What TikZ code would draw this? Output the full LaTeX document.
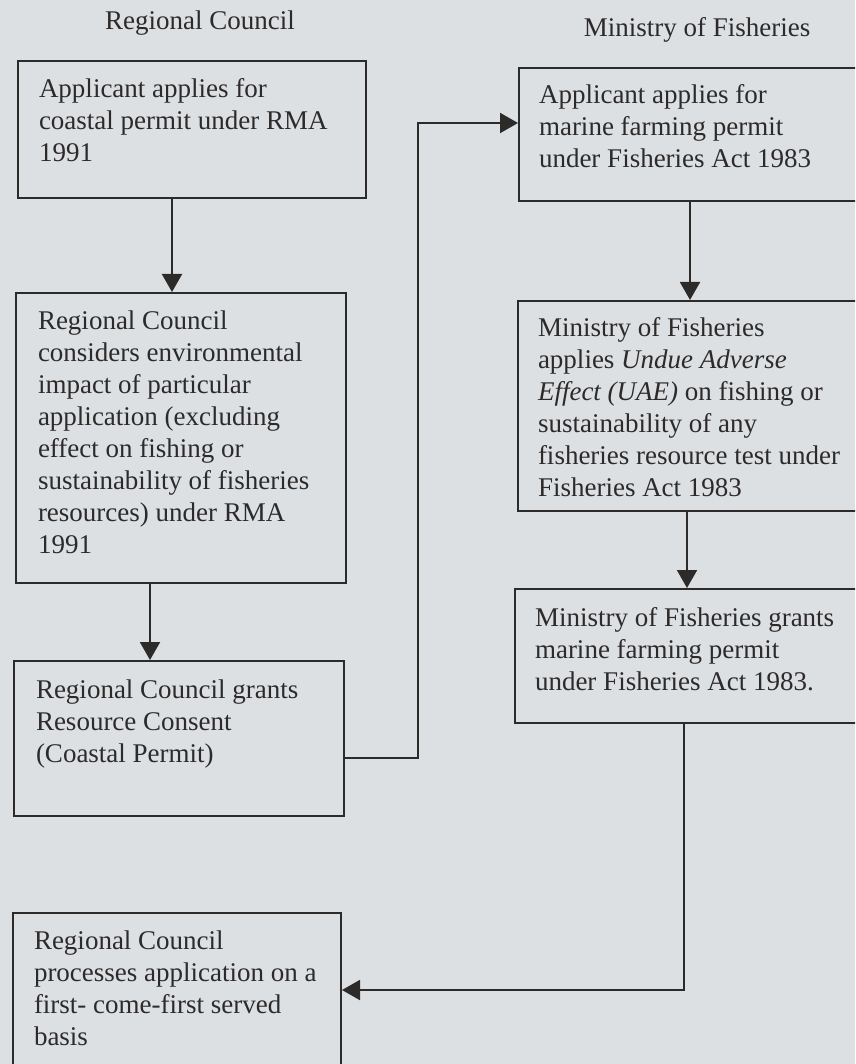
\documentclass[tikz,border=0pt]{standalone}
\usepackage{fontspec}
\setmainfont{Liberation Serif}
\usetikzlibrary{arrows.meta}
\definecolor{bg}{RGB}{221,224,227}
\definecolor{ink}{RGB}{45,42,42}
% width, height, left pad, first-baseline offset, text
\newcommand\bt[5]{\parbox[c][#2][t]{#1}{\raggedright\leftskip=#3\relax\rule{0pt}{#4}#5\par}}
\tikzset{
  box/.style={draw=ink, line width=2pt, inner sep=0pt, anchor=north west, text=ink},
  head/.style={anchor=base, text=ink, inner sep=0pt},
  arr/.style={draw=ink, line width=2pt, -{Triangle[length=18pt,width=20pt]}},
  link/.style={draw=ink, line width=2pt}
}
\begin{document}
\begin{tikzpicture}[x=1pt,y=-1pt, every node/.style={font=\fontsize{27}{32}\selectfont}]
\useasboundingbox (0,0) rectangle (855,1064);
\fill[bg] (0,0) rectangle (855,1064);
\clip (0,0) rectangle (855,1064);

\node[head] (h1) at (200,30) {Regional Council};
\node[head] (h2) at (697,37) {Ministry of Fisheries};

\node[box] (b1) at (17,60) {\bt{348pt}{137pt}{21pt}{37pt}{Applicant applies for\\coastal permit under RMA\\1991}};
\node[box] (b2) at (15,292) {\bt{330pt}{290pt}{22pt}{36pt}{Regional Council\\considers environmental\\impact of particular\\application (excluding\\effect on fishing or\\sustainability of fisheries\\resources) under RMA\\1991}};
\node[box] (b3) at (13,660) {\bt{330pt}{155pt}{22pt}{37pt}{Regional Council grants\\Resource Consent\\(Coastal Permit)}};
\node[box] (b4) at (518,67) {\bt{360pt}{133pt}{20pt}{36pt}{Applicant applies for\\marine farming permit\\under Fisheries Act 1983}};
\node[box] (b5) at (517,300) {\bt{360pt}{210pt}{20pt}{35pt}{Ministry of Fisheries\\applies \textit{Undue Adverse}\\\textit{Effect (UAE)} on fishing or\\sustainability of any\\fisheries resource test under\\Fisheries Act 1983}};
\node[box] (b6) at (514,588) {\bt{360pt}{134pt}{20pt}{37pt}{Ministry of Fisheries grants\\marine farming permit\\under Fisheries Act 1983.}};
\node[box] (b7) at (12,912) {\bt{328pt}{170pt}{21pt}{36pt}{Regional Council\\processes application on a\\first- come-first served\\basis}};

\coordinate (c1) at (172,0);
\coordinate (c2) at (150,0);
\coordinate (c4) at (690,0);
\coordinate (c5) at (687,0);
\coordinate (j1) at (418,758);
\coordinate (j2) at (418,123);
\coordinate (j3) at (684,990);

\draw[arr] (b1.south -| c1) -- (b2.north -| c1);
\draw[arr] (b2.south -| c2) -- (b3.north -| c2);
\draw[arr] (b3.east |- j1) -- (j1) -- (j2) -- (b4.west |- j2);
\draw[arr] (b4.south -| c4) -- (b5.north -| c4);
\draw[arr] (b5.south -| c5) -- (b6.north -| c5);
\draw[arr] (b6.south -| j3) -- (j3) -- (b7.east |- j3);
\end{tikzpicture}
\end{document}
